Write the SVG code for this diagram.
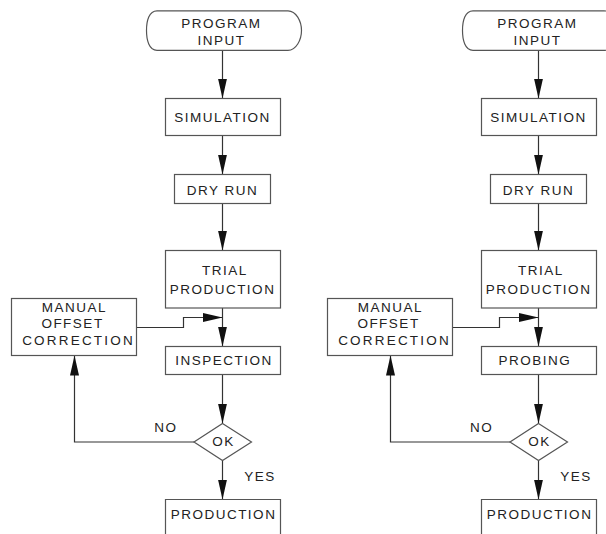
<svg xmlns="http://www.w3.org/2000/svg" width="606" height="534" viewBox="0 0 606 534">
<defs>
<style>
.bg{fill:#fff}
.box{fill:none;stroke:#555;stroke-width:1.2}
.term{fill:none;stroke:#555;stroke-width:1.2}
.ln{fill:none;stroke:#333;stroke-width:1.2}
text{font-family:"Liberation Sans",Arial,sans-serif;font-size:13.5px;fill:#222;letter-spacing:1.5px}
.c{text-anchor:middle}
.wide{letter-spacing:2.2px}
</style>
<marker id="ah" markerUnits="userSpaceOnUse" markerWidth="20" markerHeight="10" refX="20" refY="4.5" orient="auto">
<path d="M0,0 L20,4.5 L0,9 Z" fill="#111"/>
</marker>
</defs>
<rect class="bg" x="0" y="0" width="606" height="534"/>

<g id="chart-left">
<g id="connectors-left">
<path class="ln" d="M222.5,50.5 V98.5" marker-end="url(#ah)"/>
<path class="ln" d="M222.5,135.5 V174.5" marker-end="url(#ah)"/>
<path class="ln" d="M222.5,203.5 V250.5" marker-end="url(#ah)"/>
<path class="ln" d="M222.5,308 V346.5" marker-end="url(#ah)"/>
<path class="ln" d="M222.5,374.5 V423.5" marker-end="url(#ah)"/>
<path class="ln" d="M222.5,460.5 V499.5" marker-end="url(#ah)"/>
<path class="ln" d="M136.5,327.5 H183.5 V317.5 H222.5" marker-end="url(#ah)"/>
<path class="ln" d="M194,442 H74.5 V355.5" marker-end="url(#ah)"/>
<text x="154.3" y="432.3">NO</text>
<text x="244.3" y="481.3">YES</text>
</g>
<g id="L-input">
<path class="term" d="M157,10.8 H288 C296,10.8 301.5,21 301.5,30.5 C301.5,40 296,50.3 288,50.3 H157 C149,50.3 146.5,40 146.5,30.5 C146.5,21 149,10.8 157,10.8 Z"/>
<text class="c" x="221.5" y="27.7">PROGRAM</text>
<text class="c" x="221.5" y="45">INPUT</text>
</g>
<g id="L-simulation">
<rect class="box" x="165.5" y="98.5" width="115" height="37"/>
<text class="c" x="222.5" y="122">SIMULATION</text>
</g>
<g id="L-dryrun">
<rect class="box" x="174.5" y="174.5" width="96" height="29"/>
<text class="c" x="222.5" y="195">DRY RUN</text>
</g>
<g id="L-trial">
<rect class="box" x="165.5" y="250.5" width="115" height="57.5"/>
<text class="c" x="225" y="275">TRIAL</text>
<text class="c" x="222.5" y="294">PRODUCTION</text>
</g>
<g id="L-manual">
<rect class="box" x="11.5" y="298.5" width="125" height="57"/>
<text class="c" x="74.5" y="312.3">MANUAL</text>
<text class="c" x="72.5" y="328.3">OFFSET</text>
<text class="c wide" x="78.5" y="345">CORRECTION</text>
</g>
<g id="L-inspection">
<rect class="box" x="165.5" y="346.5" width="115" height="28"/>
<text class="c" x="224" y="364.7">INSPECTION</text>
</g>
<g id="L-ok">
<polygon class="box" points="222.5,423.5 251.5,442 222.5,460.5 194,442"/>
<text class="c" x="223.5" y="445.7">OK</text>
</g>
<g id="L-production">
<path class="box" d="M165.5,534 V499.5 H280.5 V534"/>
<text class="c" x="223.5" y="519.3">PRODUCTION</text>
</g>
</g>

<g id="chart-right" transform="translate(316,0)">
<g id="connectors-right">
<path class="ln" d="M222.5,50.5 V98.5" marker-end="url(#ah)"/>
<path class="ln" d="M222.5,135.5 V174.5" marker-end="url(#ah)"/>
<path class="ln" d="M222.5,203.5 V250.5" marker-end="url(#ah)"/>
<path class="ln" d="M222.5,308 V346.5" marker-end="url(#ah)"/>
<path class="ln" d="M222.5,374.5 V423.5" marker-end="url(#ah)"/>
<path class="ln" d="M222.5,460.5 V499.5" marker-end="url(#ah)"/>
<path class="ln" d="M136.5,327.5 H183.5 V317.5 H222.5" marker-end="url(#ah)"/>
<path class="ln" d="M194,442 H74.5 V355.5" marker-end="url(#ah)"/>
<text x="154" y="432.3">NO</text>
<text x="244.3" y="481.3">YES</text>
</g>
<g id="R-input">
<path class="term" d="M157,10.8 H288 C296,10.8 301.5,21 301.5,30.5 C301.5,40 296,50.3 288,50.3 H157 C149,50.3 146.5,40 146.5,30.5 C146.5,21 149,10.8 157,10.8 Z"/>
<text class="c" x="221.5" y="27.7">PROGRAM</text>
<text class="c" x="221.5" y="45">INPUT</text>
</g>
<g id="R-simulation">
<rect class="box" x="165.5" y="98.5" width="115" height="37"/>
<text class="c" x="222.5" y="122">SIMULATION</text>
</g>
<g id="R-dryrun">
<rect class="box" x="174.5" y="174.5" width="96" height="29"/>
<text class="c" x="222.5" y="195">DRY RUN</text>
</g>
<g id="R-trial">
<rect class="box" x="165.5" y="250.5" width="115" height="57.5"/>
<text class="c" x="225" y="275">TRIAL</text>
<text class="c" x="222.5" y="294">PRODUCTION</text>
</g>
<g id="R-manual">
<rect class="box" x="11.5" y="298.5" width="125" height="57"/>
<text class="c" x="74.5" y="312.3">MANUAL</text>
<text class="c" x="72.5" y="328.3">OFFSET</text>
<text class="c wide" x="78.5" y="345">CORRECTION</text>
</g>
<g id="R-probing">
<rect class="box" x="165.5" y="346.5" width="115" height="28"/>
<text class="c" x="219" y="364.7">PROBING</text>
</g>
<g id="R-ok">
<polygon class="box" points="222.5,423.5 251.5,442 222.5,460.5 194,442"/>
<text class="c" x="223.5" y="445.7">OK</text>
</g>
<g id="R-production">
<path class="box" d="M165.5,534 V499.5 H280.5 V534"/>
<text class="c" x="223.5" y="519.3">PRODUCTION</text>
</g>
</g>
</svg>
